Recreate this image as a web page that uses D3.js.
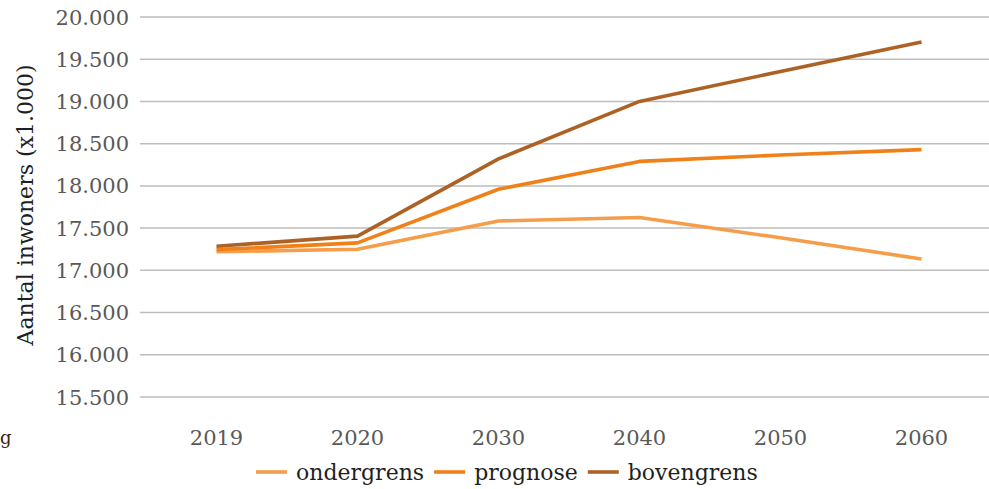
<!DOCTYPE html>
<html>
<head>
<meta charset="utf-8">
<script src="https://cdn.jsdelivr.net/npm/d3@7"></script>
<style>
  html, body { margin: 0; padding: 0; background: #fff; }
  svg { display: block; }
  text { font-family: "DejaVu Serif", "Liberation Serif", serif; }
</style>
</head>
<body>
<svg id="chart" width="989" height="489"></svg>
<script>
// Bevolkingsprognose (x1.000 inwoners)
const years = ["2019", "2020", "2030", "2040", "2050", "2060"];
const ondergrens = [17220, 17250, 17585, 17625, 17385, 17135];
const prognose   = [17245, 17325, 17960, 18290, 18365, 18430];
const bovengrens = [17285, 17405, 18320, 19000, 19355, 19705];
const yTicks = [15500, 16000, 16500, 17000, 17500, 18000, 18500, 19000, 19500, 20000];
const seriesNames = ["ondergrens", "prognose", "bovengrens"];
const seriesColors = ["#F59D4B", "#F08119", "#AD6225"];
const yTitle = "Aantal inwoners (x1.000)";

const series = [ondergrens, prognose, bovengrens].map((vals, i) => ({
  name: seriesNames[i], color: seriesColors[i], values: vals
}));

const svg = d3.select("#chart");

const nl = d3.formatLocale({ decimal: ",", thousands: ".", grouping: [3], currency: ["€ ", ""] });
const fmt = nl.format(",");

const x = d3.scaleBand().domain(years).range([146, 992]);
const y = d3.scaleLinear().domain([15500, 20000]).range([397, 17]);
const cx = d => x(d) + x.bandwidth() / 2;

// gridlines
svg.append("g")
  .selectAll("line")
  .data(yTicks)
  .join("line")
  .attr("x1", 140).attr("x2", 989)
  .attr("y1", d => y(d)).attr("y2", d => y(d))
  .attr("stroke", "#bdbdbd")
  .attr("stroke-width", 1.5);

// y tick labels
svg.append("g")
  .selectAll("text")
  .data(yTicks)
  .join("text")
  .attr("x", 129)
  .attr("y", d => y(d))
  .attr("dy", "0.36em")
  .attr("text-anchor", "end")
  .attr("font-size", 21)
  .attr("fill", "#595959")
  .text(d => fmt(d));

// x tick labels
svg.append("g")
  .selectAll("text")
  .data(years)
  .join("text")
  .attr("x", d => cx(d))
  .attr("y", 445)
  .attr("text-anchor", "middle")
  .attr("font-size", 21)
  .attr("fill", "#595959")
  .text(d => d);

// y axis title
svg.append("text")
  .attr("transform", "translate(33,205) rotate(-90)")
  .attr("text-anchor", "middle")
  .attr("font-size", 22)
  .attr("fill", "#1f1f1f")
  .text(yTitle);

// lines
const line = d3.line()
  .x((d, i) => cx(years[i]))
  .y(d => y(d));

svg.append("g")
  .selectAll("path")
  .data(series)
  .join("path")
  .attr("d", s => line(s.values))
  .attr("fill", "none")
  .attr("stroke", s => s.color)
  .attr("stroke-width", 3.6)
  .attr("stroke-linejoin", "round");

// legend
const legend = svg.append("g");
let lx = 256;
series.forEach(s => {
  const g = legend.append("g");
  g.append("line")
    .attr("x1", lx).attr("x2", lx + 31)
    .attr("y1", 472).attr("y2", 472)
    .attr("stroke", s.color)
    .attr("stroke-width", 3.6);
  const t = g.append("text")
    .attr("x", lx + 40)
    .attr("y", 480)
    .attr("font-size", 22)
    .attr("fill", "#1f1f1f")
    .text(s.name);
  const w = t.node().getComputedTextLength();
  lx = lx + 40 + w + 10;
});

// fragment of neighbouring text at the left edge
svg.append("text")
  .attr("x", 0)
  .attr("y", 444)
  .attr("font-size", 18)
  .attr("fill", "#3b2417")
  .text("g");
</script>
</body>
</html>
